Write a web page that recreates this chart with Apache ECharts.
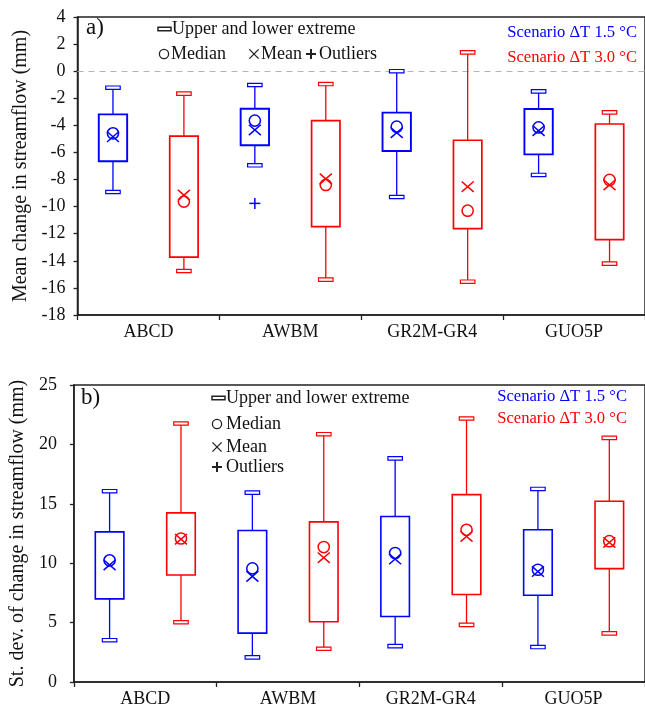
<!DOCTYPE html>
<html>
<head>
<meta charset="utf-8">
<script src="https://cdn.jsdelivr.net/npm/echarts@6/dist/echarts.min.js"></script>
<style>html,body{margin:0;padding:0;background:#fff;}#c{width:645px;height:708px;}</style>
</head>
<body>
<div id="c"></div>
<script>
const models = ['ABCD', 'AWBM', 'GR2M-GR4', 'GUO5P'];

// Panel a) mean change in streamflow (mm)
const aMin15 = [-8.92, -6.95, -9.29, -7.66];
const aQ1_15 = [-6.65, -5.47, -5.89, -6.14];
const aMed15 = [-4.59, -3.65, -4.10, -4.15];
const aQ3_15 = [-3.19, -2.77, -3.06, -2.79];
const aMax15 = [-1.22, -1.02, 0.0, -1.49];
const aMean15 = [-4.84, -4.34, -4.54, -4.39];
const aOut15 = [[1, -9.76]];

const aMin30 = [-14.75, -15.39, -15.54, -14.21];
const aQ1_30 = [-13.72, -11.48, -11.63, -12.44];
const aMed30 = [-9.63, -8.40, -10.30, -8.03];
const aQ3_30 = [-4.79, -3.65, -5.10, -3.90];
const aMax30 = [-1.66, -0.95, 1.39, -3.04];
const aMean30 = [-9.15, -7.95, -8.53, -8.40];

// Panel b) st. dev. of change in streamflow (mm)
const bMin15 = [3.52, 2.07, 3.02, 2.94];
const bQ1_15 = [7.00, 4.11, 5.51, 7.30];
const bMed15 = [10.24, 9.56, 10.86, 9.45];
const bQ3_15 = [12.64, 12.75, 13.93, 12.81];
const bMax15 = [16.06, 15.94, 18.82, 16.25];
const bMean15 = [9.85, 8.89, 10.35, 9.30];

const bMin30 = [5.03, 2.80, 4.81, 4.09];
const bQ1_30 = [9.01, 5.07, 7.36, 9.54];
const bMed30 = [12.08, 11.36, 12.81, 11.85];
const bQ3_30 = [14.24, 13.48, 15.77, 15.22];
const bMax30 = [21.76, 20.86, 22.18, 20.55];
const bMean30 = [12.02, 10.46, 12.25, 11.75];

const yTicksA = {min: -18, max: 4, interval: 2};
const yTicksB = {min: 0, max: 25, interval: 5};

const BLUE = '#0000ff';
const RED = '#ff0000';
const FONT = '"Liberation Serif", "Times New Roman", serif';
const AXC = '#222';

function rows(mn, q1, md, q3, mx, mean) {
  return models.map((m, i) => [i, mn[i], q1[i], md[i], q3[i], mx[i], mean[i]]);
}

function boxRender(color, side, boxLw) {
  return function (params, api) {
    const band = api.size([1, 0])[0];
    const idx = api.value(0);
    const x = api.coord([idx, 0])[0] + side * band / 4;
    const y = v => api.coord([idx, v])[1];
    const yMin = y(api.value(1)), yQ1 = y(api.value(2)), yMed = y(api.value(3));
    const yQ3 = y(api.value(4)), yMax = y(api.value(5)), yMean = y(api.value(6));
    const bw = band * 0.2, cw = 14.5, ch = 3.4, r = 5.6, mx = 6, my = 5.2;
    const ls = {stroke: color, lineWidth: 1.3, fill: null};
    return {
      type: 'group',
      children: [
        {type: 'line', shape: {x1: x, y1: yMax, x2: x, y2: yQ3}, style: ls},
        {type: 'line', shape: {x1: x, y1: yQ1, x2: x, y2: yMin}, style: ls},
        {type: 'rect', shape: {x: x - cw / 2, y: yMax - ch / 2, width: cw, height: ch}, style: {stroke: color, lineWidth: 1.2, fill: '#fff'}},
        {type: 'rect', shape: {x: x - cw / 2, y: yMin - ch / 2, width: cw, height: ch}, style: {stroke: color, lineWidth: 1.2, fill: '#fff'}},
        {type: 'rect', shape: {x: x - bw / 2, y: yQ3, width: bw, height: yQ1 - yQ3}, style: {stroke: color, lineWidth: boxLw, fill: null}},
        {type: 'circle', shape: {cx: x, cy: yMed, r: r}, style: {stroke: color, lineWidth: 1.5, fill: null}},
        {type: 'line', shape: {x1: x - mx, y1: yMean - my, x2: x + mx, y2: yMean + my}, style: {stroke: color, lineWidth: 1.5}},
        {type: 'line', shape: {x1: x - mx, y1: yMean + my, x2: x + mx, y2: yMean - my}, style: {stroke: color, lineWidth: 1.5}}
      ]
    };
  };
}

function outRender(color, side) {
  return function (params, api) {
    const band = api.size([1, 0])[0];
    const idx = api.value(0);
    const p = api.coord([idx, api.value(1)]);
    const x = p[0] + side * band / 4, yy = p[1], s = 5.5;
    return {
      type: 'group',
      children: [
        {type: 'line', shape: {x1: x - s, y1: yy, x2: x + s, y2: yy}, style: {stroke: color, lineWidth: 1.5}},
        {type: 'line', shape: {x1: x, y1: yy - s, x2: x, y2: yy + s}, style: {stroke: color, lineWidth: 1.5}}
      ]
    };
  };
}

function xAxisCfg(gridIndex) {
  return {
    type: 'category', gridIndex: gridIndex, data: models, boundaryGap: true, position: 'bottom',
    axisLine: {onZero: false, lineStyle: {color: AXC, width: 1.5}},
    axisTick: {show: true, inside: false, length: 5, lineStyle: {color: AXC, width: 1.3}},
    axisLabel: {color: '#111', fontFamily: FONT, fontSize: 18, margin: 8},
    splitLine: {show: false}
  };
}

function yAxisCfg(gridIndex, t, name, nameGap, labelMargin) {
  return {
    type: 'value', gridIndex: gridIndex, min: t.min, max: t.max, interval: t.interval,
    name: name, nameLocation: 'middle', nameGap: nameGap,
    nameTextStyle: {fontFamily: FONT, fontSize: 20, color: '#111'},
    axisLine: {show: true, onZero: false, lineStyle: {color: AXC, width: 1.5}},
    axisTick: {show: true, inside: false, length: 4, lineStyle: {color: AXC, width: 1.3}},
    axisLabel: {color: '#111', fontFamily: FONT, fontSize: 18, margin: labelMargin},
    splitLine: {show: false}
  };
}

const chart = echarts.init(document.getElementById('c'), null, {renderer: 'canvas'});

function gtext(x, y, s, color, size, align) {
  return {type: 'text', x: x, y: y, z: 10, style: {text: s, fill: color, font: size + 'px ' + FONT, align: align || 'left', verticalAlign: 'middle'}};
}
function capGlyph(x, y) {
  return {type: 'rect', z: 10, shape: {x: x, y: y - 1.8, width: 13, height: 3.6}, style: {stroke: '#222', lineWidth: 1.5, fill: '#fff'}};
}
function circGlyph(x, y) {
  return {type: 'circle', z: 10, shape: {cx: x, cy: y, r: 4.6}, style: {stroke: '#222', lineWidth: 1.3, fill: null}};
}
function crossGlyph(x, y) {
  const s = 4.6;
  return {type: 'group', z: 10, children: [
    {type: 'line', shape: {x1: x - s, y1: y - s, x2: x + s, y2: y + s}, style: {stroke: '#222', lineWidth: 1.3}},
    {type: 'line', shape: {x1: x - s, y1: y + s, x2: x + s, y2: y - s}, style: {stroke: '#222', lineWidth: 1.3}}
  ]};
}
function plusGlyph(x, y) {
  const s = 5;
  return {type: 'group', z: 10, children: [
    {type: 'line', shape: {x1: x - s, y1: y, x2: x + s, y2: y}, style: {stroke: '#222', lineWidth: 2}},
    {type: 'line', shape: {x1: x, y1: y - s, x2: x, y2: y + s}, style: {stroke: '#222', lineWidth: 2}}
  ]};
}

const option = {
  animation: false,
  backgroundColor: '#fff',
  grid: [
    {left: 77.5, top: 17, width: 572.5, height: 298, show: true, borderColor: AXC, borderWidth: 1.5, backgroundColor: 'transparent'},
    {left: 72, top: 385, width: 578, height: 298, show: true, borderColor: AXC, borderWidth: 1.5, backgroundColor: 'transparent'}
  ],
  xAxis: [xAxisCfg(0), xAxisCfg(1)],
  yAxis: [
    yAxisCfg(0, yTicksA, 'Mean change in streamflow (mm)', 45, 12),
    yAxisCfg(1, yTicksB, 'St. dev. of change in streamflow (mm)', 39, 17)
  ],
  series: [
    {type: 'custom', xAxisIndex: 0, yAxisIndex: 0, renderItem: boxRender(BLUE, -1, 1.9), data: rows(aMin15, aQ1_15, aMed15, aQ3_15, aMax15, aMean15), z: 3,
      markLine: {silent: true, symbol: 'none', z: 1, label: {show: false}, lineStyle: {color: '#b4b4b4', type: [6, 5], width: 1.2}, data: [{yAxis: 0}]}},
    {type: 'custom', xAxisIndex: 0, yAxisIndex: 0, renderItem: boxRender(RED, 1, 1.7), data: rows(aMin30, aQ1_30, aMed30, aQ3_30, aMax30, aMean30), z: 3},
    {type: 'custom', xAxisIndex: 0, yAxisIndex: 0, renderItem: outRender(BLUE, -1), data: aOut15, z: 3},
    {type: 'custom', xAxisIndex: 1, yAxisIndex: 1, renderItem: boxRender(BLUE, -1, 1.6), data: rows(bMin15, bQ1_15, bMed15, bQ3_15, bMax15, bMean15), z: 3},
    {type: 'custom', xAxisIndex: 1, yAxisIndex: 1, renderItem: boxRender(RED, 1, 1.6), data: rows(bMin30, bQ1_30, bMed30, bQ3_30, bMax30, bMean30), z: 3}
  ],
  graphic: [
    gtext(86, 28, 'a)', '#111', 23),
    capGlyph(158, 29), gtext(172, 29, 'Upper and lower extreme', '#111', 18),
    circGlyph(164, 54), gtext(171, 54, 'Median', '#111', 18),
    crossGlyph(254, 54), gtext(261, 54, 'Mean', '#111', 18),
    plusGlyph(311, 54), gtext(319, 54, 'Outliers', '#111', 18),
    gtext(637, 33, 'Scenario ΔT 1.5 °C', BLUE, 16.6, 'right'),
    gtext(637, 58, 'Scenario ΔT 3.0 °C', RED, 16.6, 'right'),

    gtext(81, 398, 'b)', '#111', 23),
    capGlyph(212, 398), gtext(226, 398, 'Upper and lower extreme', '#111', 18),
    circGlyph(217, 424), gtext(226, 424, 'Median', '#111', 18),
    crossGlyph(217, 447), gtext(226, 447, 'Mean', '#111', 18),
    plusGlyph(217, 467), gtext(226, 467, 'Outliers', '#111', 18),
    gtext(627, 397, 'Scenario ΔT 1.5 °C', BLUE, 16.6, 'right'),
    gtext(627, 419, 'Scenario ΔT 3.0 °C', RED, 16.6, 'right')
  ]
};
chart.setOption(option);
</script>
</body>
</html>
